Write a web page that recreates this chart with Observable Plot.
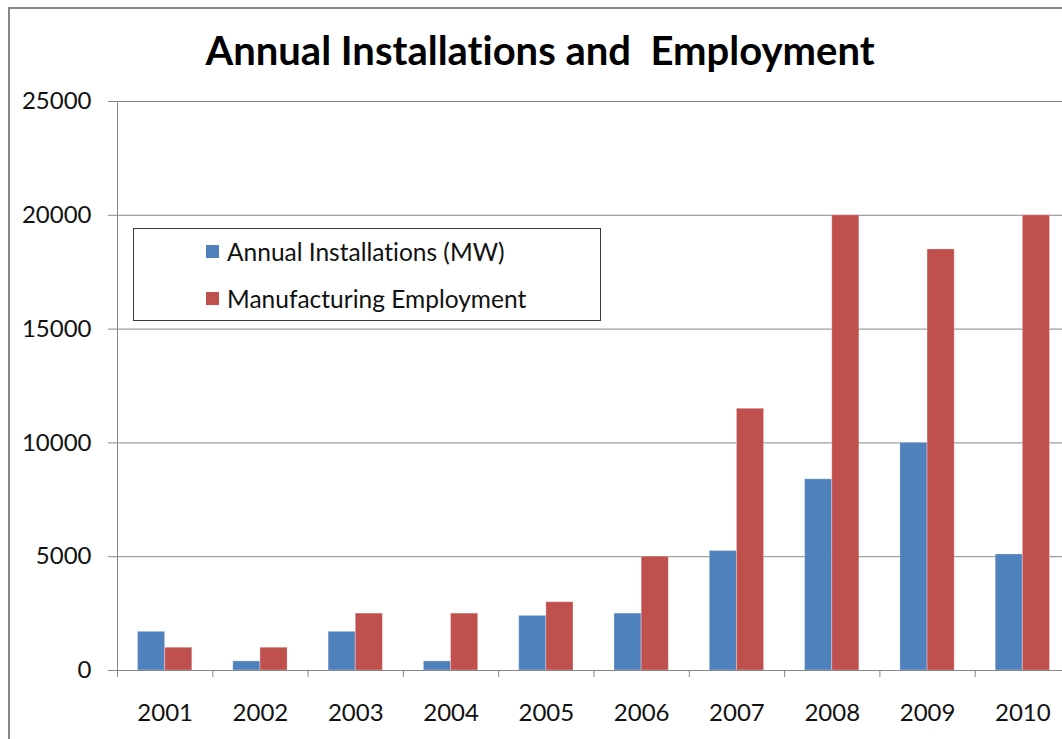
<!DOCTYPE html>
<html>
<head>
<meta charset="utf-8">
<script src="https://cdn.jsdelivr.net/npm/d3@7"></script>
<script src="https://cdn.jsdelivr.net/npm/@observablehq/plot@0.6"></script>
<style>
  html, body { margin: 0; padding: 0; background: #fff; overflow: hidden; }
  #wrap { position: relative; width: 1070px; height: 739px; font-family: Lato, "Open Sans", sans-serif; color: #111; font-variant-ligatures: none; }
  #wrap svg text { font-variant-ligatures: none; }
  #border { position: absolute; left: 8px; top: 7px; right: -20px; bottom: -20px; border-left: 2px solid #878787; border-top: 2px solid #878787; }
  #title { position: absolute; top: 30px; left: 540px; transform: translateX(-50%); font-weight: 700; font-size: 40px; line-height: 1; white-space: pre; color: #000; }
  #plot { position: absolute; left: 0; top: 0; }
  #legend { position: absolute; left: 133px; top: 228px; width: 466px; height: 91px; border: 1.5px solid #3a3a3a; background: #fff; }
  .item { position: absolute; left: 72px; display: flex; align-items: center; font-size: 24.5px; white-space: pre; }
  .sw { width: 13px; height: 13px; margin-right: 8px; }
</style>
</head>
<body>
<div id="wrap">
  <div id="border"></div>
  <div id="plot"></div>
  <div id="title"></div>
  <div id="legend"></div>
</div>
<script>
const title = "Annual Installations and  Employment";
const years = ["2001","2002","2003","2004","2005","2006","2007","2008","2009","2010"];
const installations = [1700, 400, 1700, 400, 2400, 2500, 5250, 8400, 10000, 5100];
const employment = [1000, 1000, 2500, 2500, 3000, 5000, 11500, 20000, 18500, 20000];
const seriesNames = ["Annual Installations (MW)", "Manufacturing Employment"];
const seriesColors = ["#4F81BD", "#C0504D"];
const yTicks = [0, 5000, 10000, 15000, 20000, 25000];

const W = 1070, H = 739, ML = 117, MR = 0, MT = 101, MB = 69;
const step = (W - ML - MR) / years.length;
const pad = 20.5, bw = (step - 2 * pad) / 2;
const gray = "#878787";

const instRows = years.map((y, i) => ({year: y, value: installations[i]}));
const empRows = years.map((y, i) => ({year: y, value: employment[i]}));

document.getElementById("title").textContent = title;

const chart = Plot.plot({
  width: W, height: H,
  marginLeft: ML, marginRight: MR, marginTop: MT, marginBottom: MB,
  style: {fontFamily: "Lato, 'Open Sans', sans-serif", fontSize: "24px", color: "#111", background: "transparent", overflow: "visible"},
  x: {domain: years, padding: 0, round: false, axis: null, label: null},
  y: {domain: [0, 25000], axis: null, label: null},
  marks: [
    Plot.gridY(yTicks.slice(1), {stroke: gray, strokeOpacity: 1}),
    Plot.barY(instRows, {x: "year", y: "value", fill: seriesColors[0], insetLeft: pad, insetRight: step - pad - bw, stroke: "#fff", strokeOpacity: 0.3, strokeWidth: 1}),
    Plot.barY(empRows, {x: "year", y: "value", fill: seriesColors[1], insetLeft: pad + bw, insetRight: pad, stroke: "#fff", strokeOpacity: 0.3, strokeWidth: 1}),
    Plot.ruleY([0], {stroke: gray}),
    Plot.ruleX([years[0]], {x: d => d, dx: -step / 2, stroke: gray}),
    Plot.axisX({tickSize: 7, tickFormat: () => "", label: null, dx: -step / 2, stroke: gray, strokeOpacity: 1}),
    Plot.axisX({tickSize: 0, tickPadding: 33, fontSize: 24, label: null, tickFormat: d => d}),
    Plot.axisY({ticks: yTicks, tickSize: 9, tickPadding: 17, fontSize: 24, label: null, stroke: gray, strokeOpacity: 1, tickFormat: d3.format("d")})
  ]
});
document.getElementById("plot").appendChild(chart);

const legend = document.getElementById("legend");
seriesNames.forEach((name, i) => {
  const it = document.createElement("div");
  it.className = "item";
  it.style.top = (i === 0 ? 8 : 55) + "px";
  const sw = document.createElement("span");
  sw.className = "sw";
  sw.style.background = seriesColors[i];
  const tx = document.createElement("span");
  tx.textContent = name;
  it.appendChild(sw);
  it.appendChild(tx);
  legend.appendChild(it);
});
</script>
</body>
</html>
